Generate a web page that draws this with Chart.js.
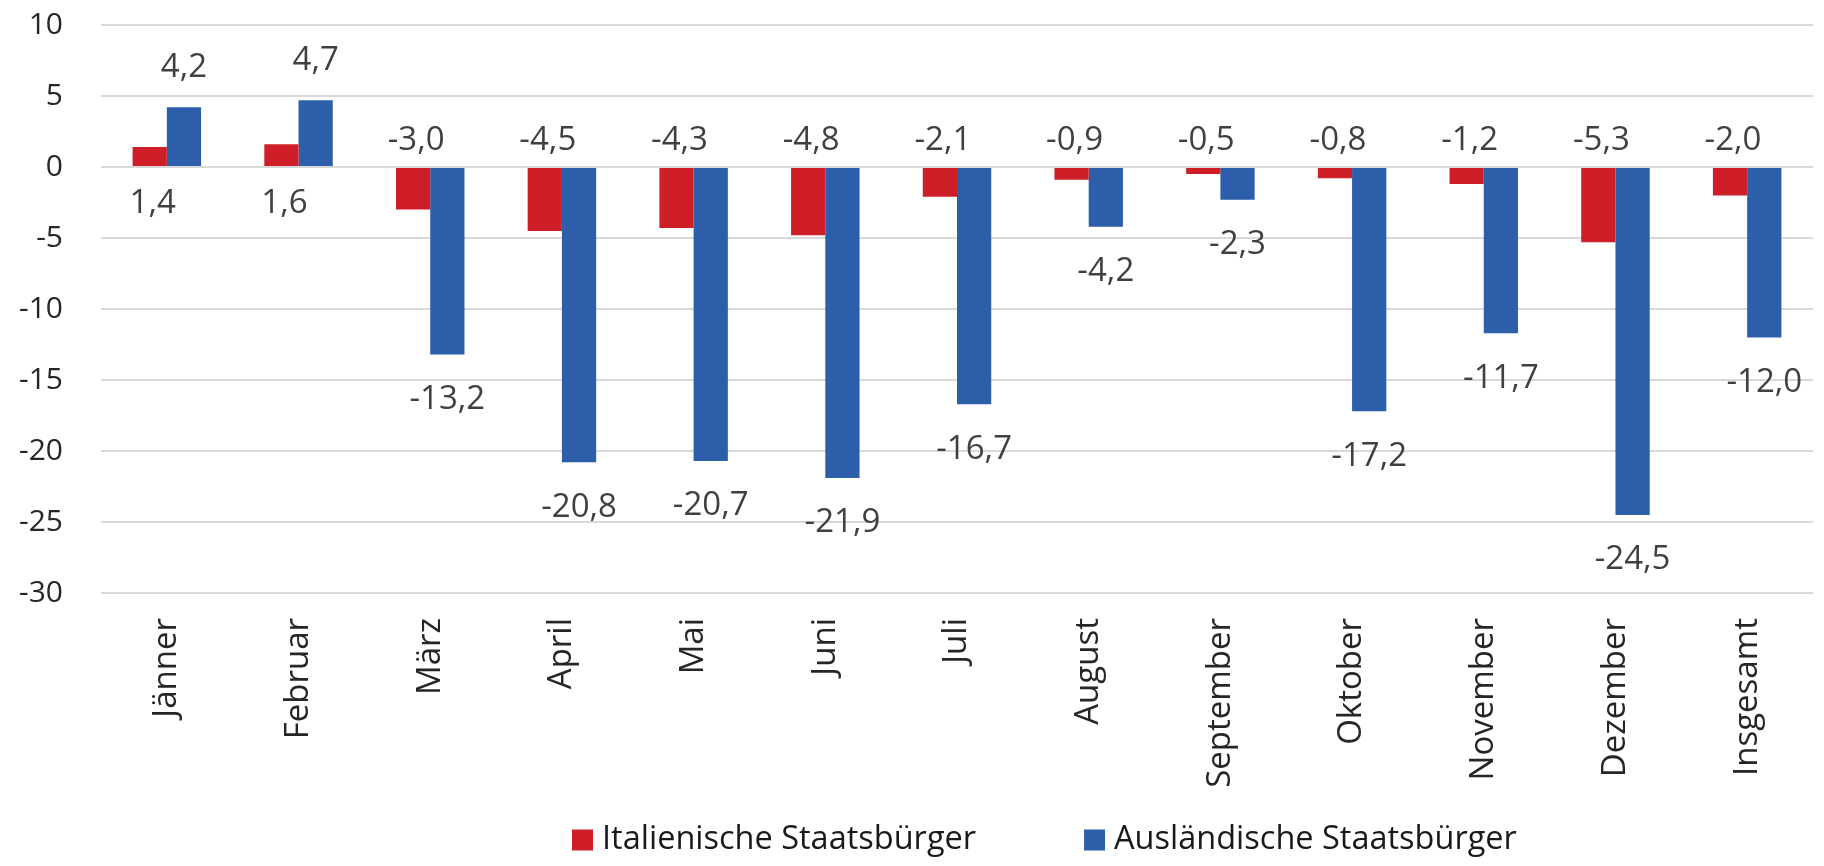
<!DOCTYPE html>
<html>
<head>
<meta charset="utf-8">
<script src="https://cdn.jsdelivr.net/npm/chart.js@4.4.0/dist/chart.umd.min.js"></script>
<style>
  html, body { margin: 0; padding: 0; background: #fff; }
  #wrap { width: 1824px; height: 866px; }
</style>
</head>
<body>
<div id="wrap"><canvas id="chart" width="1824" height="866"></canvas></div>
<script>
// -------------------- Data --------------------
const months = ['Jänner', 'Februar', 'März', 'April', 'Mai', 'Juni', 'Juli',
  'August', 'September', 'Oktober', 'November', 'Dezember', 'Insgesamt'];
const italian = [1.4, 1.6, -3.0, -4.5, -4.3, -4.8, -2.1, -0.9, -0.5, -0.8, -1.2, -5.3, -2.0];
const foreign = [4.2, 4.7, -13.2, -20.8, -20.7, -21.9, -16.7, -4.2, -2.3, -17.2, -11.7, -24.5, -12.0];
const seriesNames = ['Italienische Staatsbürger', 'Ausländische Staatsbürger'];
const yMin = -30, yMax = 10, yStep = 5;

const RED = '#CE1F29';
const BLUE = '#2C5EAA';
const FONT = '"Open Sans", sans-serif';

// German decimal comma
function fmt(v) {
  return v.toFixed(1).replace('.', ',');
}

// -------------------- Value labels --------------------
// red labels sit on the other side of the zero line, blue ones past the bar end
const valueLabels = {
  id: 'valueLabels',
  afterDatasetsDraw(chart) {
    const ctx = chart.ctx;
    const zero = chart.scales.y.getPixelForValue(0);
    ctx.save();
    ctx.font = `33px ${FONT}`;
    ctx.fillStyle = '#404040';
    ctx.textAlign = 'center';
    ctx.textBaseline = 'middle';
    chart.data.datasets.forEach((ds, i) => {
      chart.getDatasetMeta(i).data.forEach((bar, j) => {
        const v = ds.data[j];
        let y;
        if (i === 0) y = v >= 0 ? zero + 37 : zero - 26;
        else y = v >= 0 ? bar.y - 40 : bar.y + 45;
        ctx.fillText(fmt(v), bar.x + (i === 0 ? 3 : 0), y);
      });
    });
    ctx.restore();
  }
};

// -------------------- Legend --------------------
const bottomLegend = {
  id: 'bottomLegend',
  afterDraw(chart) {
    const ctx = chart.ctx;
    const box = 21, gap = 9, itemGap = 108;
    const cy = 840;
    let x = 572;
    ctx.save();
    ctx.font = `32.5px ${FONT}`;
    ctx.textBaseline = 'middle';
    ctx.textAlign = 'left';
    chart.data.datasets.forEach((ds) => {
      ctx.fillStyle = ds.backgroundColor;
      ctx.fillRect(x, cy - box / 2, box, box);
      ctx.fillStyle = '#1a1a1a';
      ctx.fillText(ds.label, x + box + gap, cy);
      x += box + gap + ctx.measureText(ds.label).width + itemGap;
    });
    ctx.restore();
  }
};

// -------------------- Chart --------------------
const ctx = document.getElementById('chart').getContext('2d');
new Chart(ctx, {
  type: 'bar',
  data: {
    labels: months,
    datasets: [
      { label: seriesNames[0], data: italian, backgroundColor: RED },
      { label: seriesNames[1], data: foreign, backgroundColor: BLUE }
    ]
  },
  options: {
    responsive: false,
    animation: false,
    layout: { padding: { top: 25, right: 11, left: 0, bottom: 0 } },
    datasets: {
      bar: { categoryPercentage: 0.52, barPercentage: 1, borderWidth: 0 }
    },
    plugins: {
      legend: { display: false },
      tooltip: { enabled: false }
    },
    scales: {
      x: {
        grid: { display: false },
        border: { display: false },
        ticks: {
          minRotation: 90,
          maxRotation: 90,
          padding: 17,
          color: '#262626',
          font: { family: FONT, size: 33 }
        },
        afterFit: (scale) => { scale.height = 273; }
      },
      y: {
        min: yMin,
        max: yMax,
        grid: { color: '#d9d9d9', lineWidth: 2, drawTicks: false },
        border: { display: false },
        ticks: {
          stepSize: yStep,
          padding: 38,
          color: '#262626',
          font: { family: FONT, size: 30 }
        },
        afterFit: (scale) => {
          scale.width = 101;
          scale.paddingTop = 0;
          scale.paddingBottom = 0;
        }
      }
    }
  },
  plugins: [valueLabels, bottomLegend]
});
</script>
</body>
</html>
